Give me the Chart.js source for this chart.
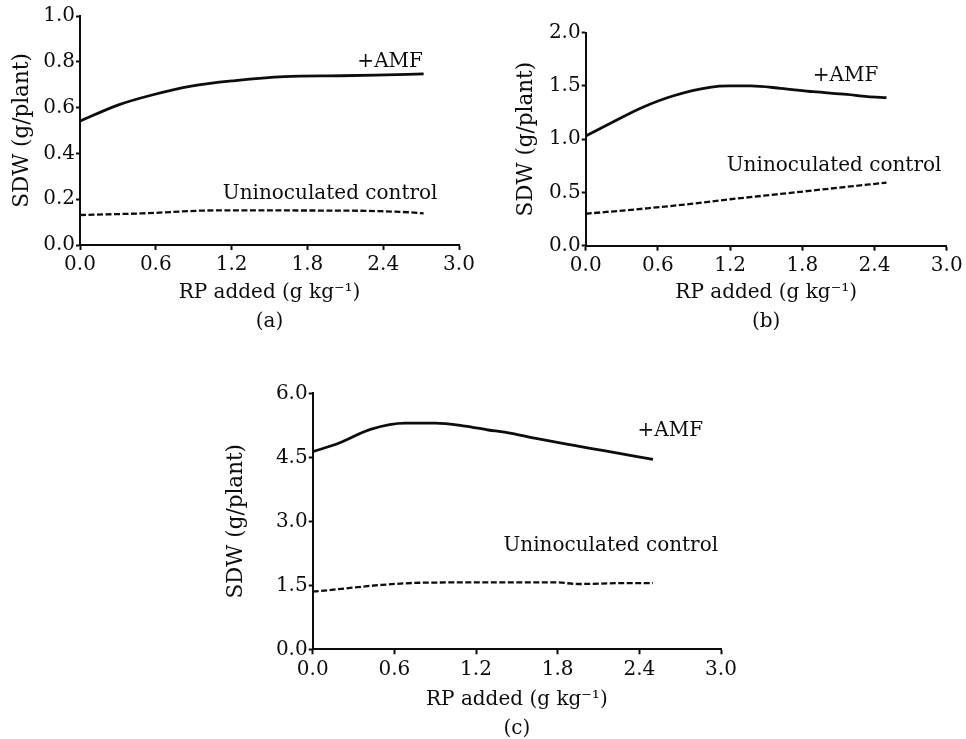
<!DOCTYPE html>
<html>
<head>
<meta charset="utf-8">
<script src="https://cdn.jsdelivr.net/npm/chart.js@4.4.0/dist/chart.umd.min.js"></script>
<style>
  html, body { margin: 0; padding: 0; background: #fff; overflow: hidden; }
  #wrap { position: relative; width: 966px; height: 739px; }
  canvas { position: absolute; }
</style>
</head>
<body>
<div id="wrap">
  <canvas id="panelA" width="480" height="340" style="left:0px;top:0px"></canvas>
  <canvas id="panelB" width="486" height="340" style="left:480px;top:0px"></canvas>
  <canvas id="panelC" width="540" height="380" style="left:220px;top:370px"></canvas>
</div>
<script>
// -------------------------
// DATA
// -------------------------
const xTicks = [0, 0.6, 1.2, 1.8, 2.4, 3.0];

// (a)
const rpAmfA = [0, 0.3, 0.57, 0.88, 1.23, 1.62, 2.07, 2.34, 2.72];
const sdwAmfA = [0.541, 0.611, 0.655, 0.694, 0.718, 0.735, 0.739, 0.742, 0.747];
const rpCtrlA = [0, 0.49, 1.07, 2.12, 2.6, 2.72];
const sdwCtrlA = [0.131, 0.138, 0.151, 0.150, 0.143, 0.138];
const yTicksA = [0, 0.2, 0.4, 0.6, 0.8, 1.0];

// (b)
const rpAmfB = [0, 0.23, 0.465, 0.73, 1.03, 1.2, 1.37, 1.62, 1.89, 2.17, 2.34, 2.5];
const sdwAmfB = [1.03, 1.164, 1.296, 1.408, 1.487, 1.5, 1.5, 1.478, 1.446, 1.42, 1.40, 1.39];
const rpCtrlB = [0, 0.51, 0.87, 1.2, 1.62, 2.03, 2.5];
const sdwCtrlB = [0.30, 0.351, 0.392, 0.436, 0.486, 0.536, 0.592];
const yTicksB = [0, 0.5, 1.0, 1.5, 2.0];

// (c)
const rpAmfC = [0, 0.19, 0.43, 0.68, 0.9, 1.12, 1.29, 1.41, 1.66, 1.9, 2.15, 2.5];
const sdwAmfC = [4.63, 4.83, 5.16, 5.30, 5.30, 5.23, 5.14, 5.09, 4.93, 4.79, 4.65, 4.45];
const rpCtrlC = [0, 0.19, 0.51, 0.8, 1.41, 1.78, 1.95, 2.27, 2.5];
const sdwCtrlC = [1.35, 1.41, 1.51, 1.56, 1.57, 1.57, 1.53, 1.55, 1.55];
const yTicksC = [0, 1.5, 3.0, 4.5, 6.0];

const xTitle = "RP added (g kg\u207B\u00B9)";
const yTitle = "SDW (g/plant)";
const amfLabel = "+AMF";
const ctrlLabel = "Uninoculated control";

// -------------------------
// STYLE
// -------------------------
const INK = "#0d0d0d";
const FAMILY = '"DejaVu Serif", "Liberation Serif", serif';
const FS = 20;
const Y_FS = 21.5;
const TITLE_LH = 29;

function toPoints(xs, ys) {
  return xs.map((x, i) => ({ x: x, y: ys[i] }));
}

// text labels placed in data coordinates
const notePlugin = {
  id: "notes",
  afterDatasetsDraw(chart, args, opts) {
    const { ctx, scales } = chart;
    ctx.save();
    ctx.font = FS + "px " + FAMILY;
    ctx.fillStyle = INK;
    ctx.textAlign = "center";
    ctx.textBaseline = "middle";
    opts.items.forEach(n => {
      ctx.fillText(n.text, scales.x.getPixelForValue(n.x), scales.y.getPixelForValue(n.y));
    });
    ctx.restore();
  }
};

// -------------------------
// BUILD ONE PANEL
// -------------------------
function buildPanel(id, p) {
  const canvas = document.getElementById(id);
  const W = canvas.width;
  const H = canvas.height;
  const yLH = Y_FS * 1.2;

  return new Chart(canvas, {
    type: "line",
    data: {
      datasets: [
        {
          data: toPoints(p.amfX, p.amfY),
          borderColor: INK,
          borderWidth: 2.8,
          pointRadius: 0,
          cubicInterpolationMode: "monotone",
          fill: false
        },
        {
          data: toPoints(p.ctrlX, p.ctrlY),
          borderColor: INK,
          borderWidth: 2.3,
          borderDash: [6, 2.5],
          pointRadius: 0,
          cubicInterpolationMode: "monotone",
          fill: false
        }
      ]
    },
    options: {
      responsive: false,
      animation: false,
      events: [],
      layout: { padding: { top: p.area.top, right: W - p.area.right, left: 0, bottom: 0 } },
      plugins: {
        legend: { display: false },
        tooltip: { enabled: false },
        notes: { items: p.notes }
      },
      scales: {
        x: {
          type: "linear",
          min: 0,
          max: 3,
          afterBuildTicks: s => { s.ticks = xTicks.map(v => ({ value: v })); },
          afterFit: s => { s.height = H - p.area.bottom; },
          border: { display: true, color: INK, width: 2 },
          grid: { drawOnChartArea: false, drawTicks: true, tickLength: 5, tickColor: INK, tickWidth: 2 },
          ticks: {
            color: INK,
            padding: 3,
            maxRotation: 0,
            font: { family: FAMILY, size: FS },
            callback: v => Number(v).toFixed(1)
          },
          title: {
            display: true,
            text: [xTitle, p.tag],
            color: INK,
            font: { family: FAMILY, size: FS, lineHeight: TITLE_LH / FS },
            padding: { top: 0, bottom: H - 1.5 * TITLE_LH - p.titleY }
          }
        },
        y: {
          type: "linear",
          min: p.yTicks[0],
          max: p.yTicks[p.yTicks.length - 1],
          afterBuildTicks: s => { s.ticks = p.yTicks.map(v => ({ value: v })); },
          afterFit: s => { s.width = p.area.left; },
          border: { display: true, color: INK, width: 2 },
          grid: { drawOnChartArea: false, drawTicks: true, tickLength: 4, tickColor: INK, tickWidth: 2 },
          ticks: {
            color: INK,
            padding: 1,
            font: { family: FAMILY, size: FS },
            callback: v => Number(v).toFixed(1)
          },
          title: {
            display: true,
            text: yTitle,
            color: INK,
            font: { family: FAMILY, size: Y_FS, lineHeight: 1.2 },
            padding: { top: p.yTitleX - yLH / 2, bottom: 0 }
          }
        }
      }
    },
    plugins: [notePlugin]
  });
}

// -------------------------
// START
// -------------------------
buildPanel("panelA", {
  amfX: rpAmfA, amfY: sdwAmfA, ctrlX: rpCtrlA, ctrlY: sdwCtrlA, yTicks: yTicksA,
  area: { left: 80, top: 16, right: 459, bottom: 245 },
  titleY: 293, yTitleX: 22, tag: "(a)",
  notes: [
    { text: amfLabel, x: 2.455, y: 0.798 },
    { text: ctrlLabel, x: 1.98, y: 0.223 }
  ]
});

buildPanel("panelB", {
  amfX: rpAmfB, amfY: sdwAmfB, ctrlX: rpCtrlB, ctrlY: sdwCtrlB, yTicks: yTicksB,
  area: { left: 105.7, top: 32.7, right: 466.7, bottom: 245.7 },
  titleY: 293, yTitleX: 46.7, tag: "(b)",
  notes: [
    { text: amfLabel, x: 2.16, y: 1.593 },
    { text: ctrlLabel, x: 2.064, y: 0.751 }
  ]
});

buildPanel("panelC", {
  amfX: rpAmfC, amfY: sdwAmfC, ctrlX: rpCtrlC, ctrlY: sdwCtrlC, yTicks: yTicksC,
  area: { left: 92.7, top: 23.3, right: 501, bottom: 279.3 },
  titleY: 330, yTitleX: 16.7, tag: "(c)",
  notes: [
    { text: amfLabel, x: 2.628, y: 5.116 },
    { text: ctrlLabel, x: 2.19, y: 2.42 }
  ]
});
</script>
</body>
</html>
